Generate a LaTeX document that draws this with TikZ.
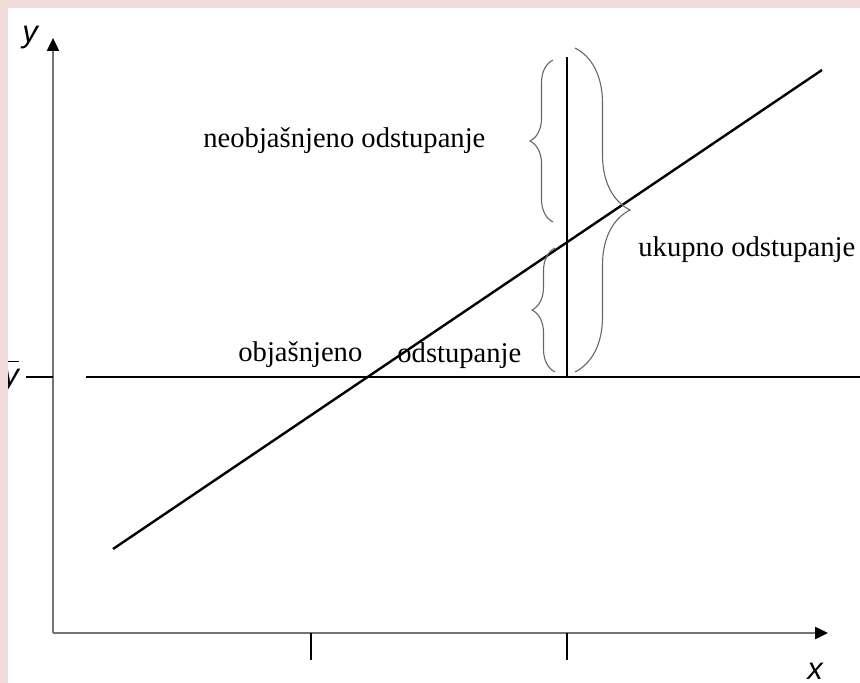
\documentclass[tikz,border=0pt]{standalone}
\usepackage{fontspec}
\setmainfont{Liberation Serif}
\newfontfamily\axisfont{Liberation Sans}
\usetikzlibrary{arrows.meta,decorations.pathreplacing}
\definecolor{framepink}{HTML}{F2DCDB}
\begin{document}
\begin{tikzpicture}[x=0.5pt,y=-0.5pt,
  every node/.style={inner sep=0pt,font=\fontsize{14.3}{17}\selectfont},
  lbl/.style={anchor=base west},
  axlbl/.style={anchor=base,font=\fontsize{15.5}{18}\selectfont\axisfont\itshape},
  axis/.style={draw=black!55,line width=1.2pt,-{Triangle[length=6.5pt,width=6pt,color=black]}},
  tick/.style={draw=black,line width=0.6pt},
  ln/.style={draw=black,line width=1.2pt},
  brc/.style={draw=black!60,line width=0.55pt,decorate,decoration={brace,amplitude=#1,aspect=0.5}}]
\useasboundingbox (0,0) rectangle (860,683);
\coordinate (O) at (53,633);
\coordinate (ytop) at (53,38);
\coordinate (xend) at (828,633);
\coordinate (tk1) at (311,660); \coordinate (tk1a) at (311,633);
\coordinate (tk2) at (567,660); \coordinate (tk2a) at (567,633);
\coordinate (tky) at (26,377); \coordinate (tkya) at (53,377);
\coordinate (m1) at (86,377); \coordinate (m2) at (860,377);
\coordinate (r1) at (113,549); \coordinate (r2) at (822,70);
\coordinate (v1) at (567,377); \coordinate (v2) at (567,57);
\node[axlbl] (ylab) at (30,43) {y};
\node[axlbl] (xlab) at (815,679) {x};
\node[axlbl,anchor=base west] (ybar) at (3,386) {$\overline{\mbox{\axisfont\itshape y}\vphantom{\mbox{\axisfont X}}}$};
\node[lbl] (neo) at (203,148) {neobjašnjeno odstupanje};
\node[lbl] (uk) at (638,257) {ukupno odstupanje};
\node[lbl] (obj) at (238,362) {objašnjeno};
\node[lbl] (ods) at (397,363) {odstupanje};
\draw[axis] (O) -- (ytop);
\draw[axis] (O) -- (xend);
\draw[tick] (tk1a) -- (tk1); \draw[tick] (tk2a) -- (tk2); \draw[tick] (tky) -- (tkya);
\draw[ln] (m1) -- (m2);
\draw[ln] (r1) -- (r2);
\draw[ln] (v1) -- (v2);
\coordinate (b1a) at (553,222); \coordinate (b1b) at (553,60);
\coordinate (b2a) at (555,372); \coordinate (b2b) at (555,248);
\coordinate (b3a) at (575,48); \coordinate (b3b) at (575,372);
\draw[brc=11.5pt] (b1a) -- (b1b);
\draw[brc=11.5pt] (b2a) -- (b2b);
\draw[brc=27.5pt] (b3a) -- (b3b);
\fill[framepink] (0,0) rectangle (860,8);
\fill[framepink] (0,0) rectangle (8,683);
\end{tikzpicture}
\end{document}
